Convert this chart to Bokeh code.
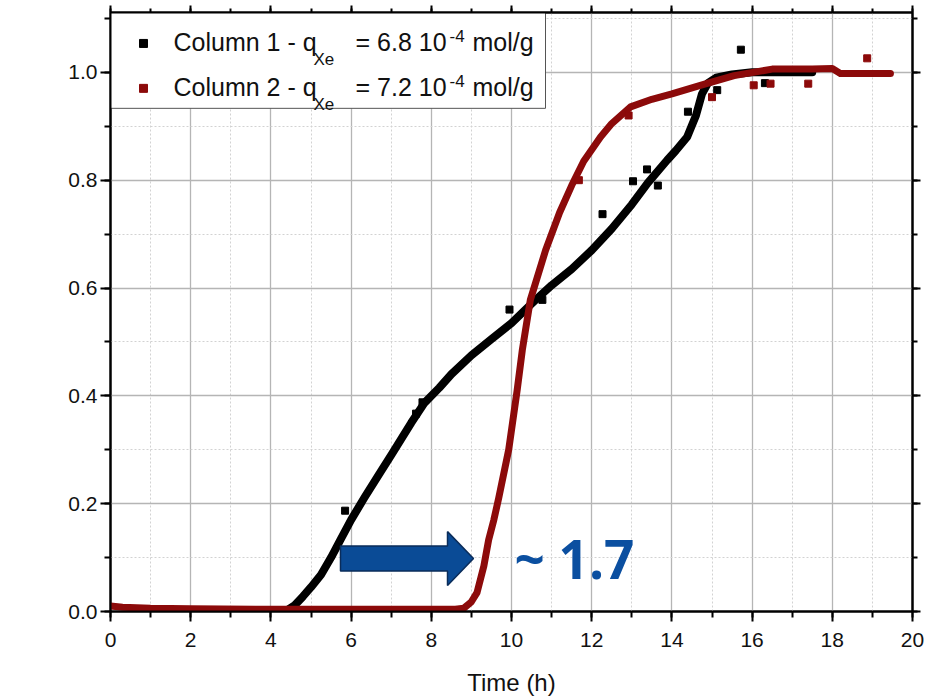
import math
from bokeh.plotting import figure
from bokeh.models import (LinearAxis, SingleIntervalTicker, Range1d, Label,
                          NumeralTickFormatter, CustomJSTickFormatter)
from bokeh.core.properties import value
from bokeh.embed import file_html
from bokeh.resources import INLINE

# ---------------- data ----------------
col1_t = [4.35, 4.6, 4.8, 5.0, 5.25, 5.5, 5.75, 6.0, 6.33, 6.7, 7.0, 7.5, 7.83,
          8.2, 8.5, 9.0, 9.5, 10.0, 10.6, 11.0, 11.5, 12.0, 12.5, 13.0, 13.4,
          13.88, 14.1, 14.38, 14.6, 14.75, 14.9, 15.1, 15.5, 16.0, 16.5, 17.0, 17.5]
col1_y = [0.0, 0.012, 0.028, 0.045, 0.068, 0.10, 0.135, 0.17, 0.211, 0.255,
          0.29, 0.35, 0.387, 0.415, 0.44, 0.475, 0.505, 0.535, 0.578, 0.605,
          0.635, 0.67, 0.71, 0.755, 0.795, 0.837, 0.855, 0.88, 0.92, 0.96,
          0.98, 0.99, 0.996, 1.0, 1.0, 1.0, 1.0]
col1_out_t = [5.85, 7.62, 7.78, 9.95, 10.77, 12.27, 13.03, 13.38, 13.65, 14.4,
              15.13, 15.72, 16.32]
col1_out_y = [0.187, 0.367, 0.388, 0.56, 0.578, 0.737, 0.798, 0.82, 0.79, 0.927,
              0.967, 1.042, 0.98]

col2_t = [0.0, 0.3, 1.0, 2.0, 4.0, 6.0, 8.0, 8.6, 8.81, 9.0, 9.14, 9.31, 9.43,
          9.56, 9.68, 9.93, 10.14, 10.27, 10.47, 10.85, 11.2, 11.5, 11.8, 12.22,
          12.5, 12.97, 13.5, 14.0, 14.71, 15.55, 16.5, 17.0, 17.5, 18.0, 18.2,
          19.0, 19.45]
col2_y = [0.010, 0.008, 0.006, 0.005, 0.004, 0.004, 0.004, 0.004, 0.006, 0.018,
          0.035, 0.084, 0.133, 0.17, 0.21, 0.30, 0.41, 0.485, 0.578, 0.67, 0.74,
          0.79, 0.835, 0.88, 0.905, 0.936, 0.95, 0.96, 0.976, 0.994, 1.006,
          1.006, 1.006, 1.007, 0.998, 0.998, 0.998]
col2_out_t = [11.68, 12.92, 15.0, 16.04, 16.46, 17.4, 18.87]
col2_out_y = [0.80, 0.92, 0.954, 0.976, 0.979, 0.979, 1.026]

x_ticks_interval = 2
y_ticks_interval = 0.2
shift_label = "~ 1.7"
legend_row1 = ["Column 1 - q", "Xe", "= 6.8 10", "-4", "mol/g"]
legend_row2 = ["Column 2 - q", "Xe", "= 7.2 10", "-4", "mol/g"]

BLACK = "#000000"
RED = "#8c0a0a"
BLUE = "#0a4b96"
FONT = "Liberation Sans"

# ---------------- figure ----------------
X0, X1, Y0, Y1 = 0, 20, 0, 1.111
p = figure(width=924, height=698, x_range=Range1d(X0, X1), y_range=Range1d(Y0, Y1),
           output_backend="svg", toolbar_location=None,
           min_border_left=110, min_border_right=12, min_border_top=12,
           min_border_bottom=86)
p.outline_line_color = "black"
p.outline_line_width = 2
p.background_fill_color = "white"
p.border_fill_color = "white"

# pixel helpers for annotations (frame from px 110..912 x, 12..612 y)
FL, FR, FT, FB = 110.0, 912.0, 12.0, 612.0
def px2x(px):
    return X0 + (px - FL) / (FR - FL) * (X1 - X0)
def py2y(py):
    return Y0 + (FB - py) / (FB - FT) * (Y1 - Y0)
BASE_FIX = 0.4  # svg alphabetic-baseline correction, in em

xt = SingleIntervalTicker(interval=x_ticks_interval, num_minor_ticks=2)
yt = SingleIntervalTicker(interval=y_ticks_interval, num_minor_ticks=2)

def style_axis(ax, labels=True, size=10, msize=6):
    ax.axis_line_width = 2
    ax.axis_line_color = "black"
    ax.major_tick_line_width = 2
    ax.minor_tick_line_width = 2
    ax.major_tick_in = 0
    ax.minor_tick_in = 0
    ax.major_tick_out = size
    ax.minor_tick_out = msize
    if labels:
        ax.major_label_text_font = FONT
        ax.major_label_text_font_size = "21px"
        ax.major_label_text_color = "#111111"
    else:
        ax.formatter = CustomJSTickFormatter(code="return '';")
        ax.major_label_text_font_size = "1px"
        ax.major_label_standoff = 0

xa = p.xaxis[0]
xa.ticker = xt
style_axis(xa)
xa.major_label_standoff = 11
xa.axis_label = "Time (h)"
xa.axis_label_text_font = FONT
xa.axis_label_text_font_size = "24px"
xa.axis_label_text_font_style = "normal"
xa.axis_label_text_color = "#111111"
xa.axis_label_standoff = 19

ya = p.yaxis[0]
ya.ticker = yt
ya.formatter = NumeralTickFormatter(format="0.0")
style_axis(ya)
ya.major_label_standoff = 3

top = LinearAxis(ticker=SingleIntervalTicker(interval=x_ticks_interval, num_minor_ticks=2))
style_axis(top, labels=False, size=7, msize=4)
p.add_layout(top, "above")
right = LinearAxis(ticker=SingleIntervalTicker(interval=y_ticks_interval, num_minor_ticks=2))
style_axis(right, labels=False, size=8, msize=5)
p.add_layout(right, "right")

for g, t in ((p.xgrid[0], xt), (p.ygrid[0], yt)):
    g.ticker = t
    g.grid_line_color = "#b5b5b5"
    g.grid_line_width = 1.3
    g.minor_grid_line_color = "#d2d2d2"
    g.minor_grid_line_dash = "2 2"
    g.minor_grid_line_width = 1

# ---------------- series ----------------
p.line(col1_t, col1_y, line_color=BLACK, line_width=8, line_join="round", line_cap="round")
p.scatter(col1_out_t, col1_out_y, marker="square", size=7, fill_color=BLACK, line_color=BLACK)
p.line(col2_t, col2_y, line_color=RED, line_width=7, line_join="round", line_cap="round")
p.scatter(col2_out_t, col2_out_y, marker="square", size=7, fill_color=RED, line_color=RED)

# ---------------- arrow + label ----------------
tail_x, head_x, tip_x = px2x(340), px2x(447), px2x(473)
cy = py2y(559)
sh = (py2y(547) - py2y(572)) / 2
hh = (py2y(532) - py2y(586)) / 2
ax_pts = [tail_x, head_x, head_x, tip_x, head_x, head_x, tail_x]
ay_pts = [cy - sh, cy - sh, cy - hh, cy, cy + hh, cy + sh, cy + sh]
p.patch(ax_pts, ay_pts, fill_color=BLUE, line_color="#0a2c5a", line_width=1.5)
big = 53
p.text(x=[px2x(514)], y=[py2y(580 - BASE_FIX * big)], text=[shift_label],
       text_font=value("Open Sans"), text_font_style="bold",
       text_font_size=f"{big}px", text_color="#0b4fa0",
       text_align="left", text_baseline="alphabetic")

# ---------------- legend (manual, for sub/superscripts) ----------------
p.quad(left=[X0], right=[px2x(545)], top=[Y1], bottom=[py2y(108)],
       fill_color="white", line_color="#555555", line_width=1)
p.scatter([px2x(143)], [py2y(43)], marker="square", size=8, fill_color=BLACK, line_color=BLACK)
p.scatter([px2x(143)], [py2y(88)], marker="square", size=8, fill_color=RED, line_color=RED)

seg_px = [173, 313, 355, 449, 472]
seg_dy = [0, 14, 0, -10, 0]
seg_sz = [25, 17, 25, 17, 25]
for row, base in ((legend_row1, 52), (legend_row2, 97)):
    for s, xpx, dy, sz in zip(row, seg_px, seg_dy, seg_sz):
        p.text(x=[px2x(xpx)], y=[py2y(base + dy - BASE_FIX * sz)], text=[s],
               text_font=value(FONT), text_font_size=f"{sz}px", text_color="#111111",
               text_align="left", text_baseline="alphabetic")

# ---------------- y axis label ----------------
p.add_layout(Label(x=px2x(40), y=py2y(341), text="Normalized Xe outlet (-)",
                   angle=math.pi / 2, text_align="center", text_baseline="middle",
                   text_font=FONT, text_font_size="24px", text_color="#111111"))

open("out.html", "w").write(file_html(p, INLINE))
